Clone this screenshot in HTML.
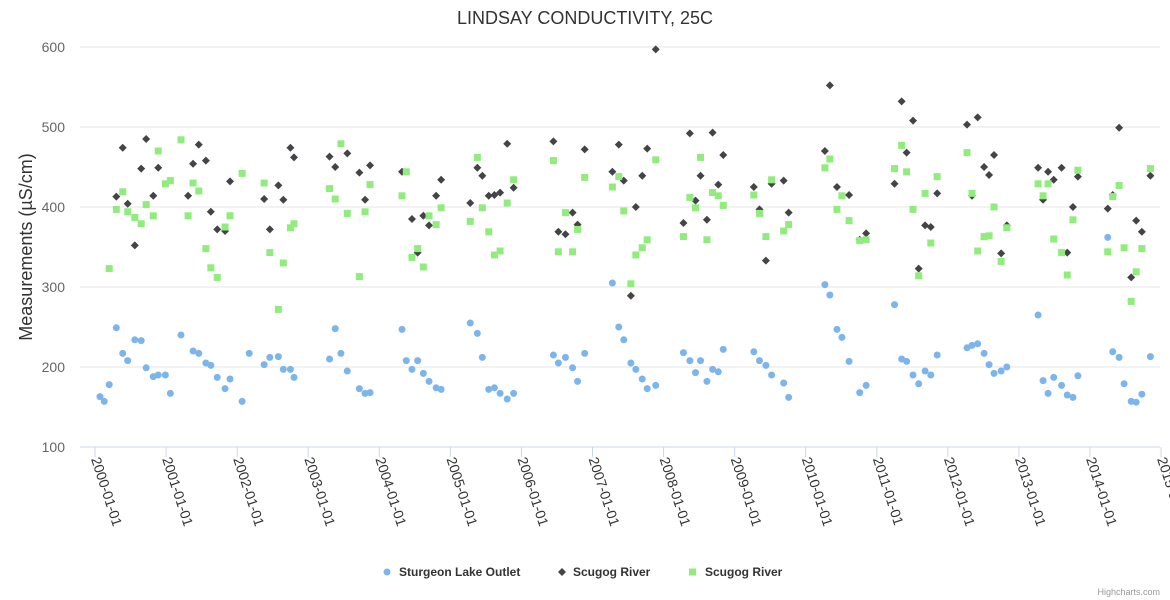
<!DOCTYPE html>
<html><head><meta charset="utf-8"><style>
body{margin:0;background:#fff;font-family:"Liberation Sans",sans-serif;}
svg{display:block}
</style></head><body>
<svg id="c" width="1170" height="600">
<text x="585" y="24" text-anchor="middle" font-size="18" fill="#333">LINDSAY CONDUCTIVITY, 25C</text>
<text transform="translate(32,247) rotate(-90)" text-anchor="middle" font-size="18" fill="#333">Measurements (µS/cm)</text>
<g id="grid"></g><g id="xax"></g><g id="marks"></g>
<g>
<g><circle cx="387" cy="572" r="3.5" fill="#7cb5ec"/><text x="399" y="576" font-size="12" font-weight="bold" fill="#333">Sturgeon Lake Outlet</text></g>
<g><path d="M562,568 L566,572 L562,576 L558,572Z" fill="#434348"/><text x="573" y="576" font-size="12" font-weight="bold" fill="#333">Scugog River</text></g>
<g><rect x="689" y="568.5" width="7" height="7" fill="#90ed7d"/><text x="705" y="576" font-size="12" font-weight="bold" fill="#333">Scugog River</text></g>
</g>
<text x="1160" y="595" text-anchor="end" font-size="9" fill="#999">Highcharts.com</text>
</svg>
<script>
const yTicks=[100,200,300,400,500,600];
const xTickYears=[0,1,2,3,4,5,6,7,8,9,10,11,12,13,14,15];
const xTickLabels=["2000-01-01","2001-01-01","2002-01-01","2003-01-01","2004-01-01","2005-01-01","2006-01-01","2007-01-01","2008-01-01","2009-01-01","2010-01-01","2011-01-01","2012-01-01","2013-01-01","2014-01-01","2015-01-01"];
const sturgeonT=[0.07,0.13,0.20,0.30,0.39,0.46,0.56,0.65,0.72,0.82,0.89,0.99,1.06,1.21,1.38,1.46,1.56,1.63,1.72,1.83,1.90,2.07,2.17,2.38,2.46,2.58,2.65,2.75,2.80,3.30,3.38,3.46,3.55,3.72,3.80,3.87,4.32,4.38,4.46,4.54,4.62,4.70,4.80,4.87,5.28,5.38,5.45,5.54,5.62,5.70,5.80,5.89,6.45,6.52,6.62,6.72,6.79,6.89,7.28,7.37,7.44,7.54,7.61,7.70,7.77,7.89,8.28,8.37,8.45,8.52,8.61,8.69,8.77,8.84,9.27,9.35,9.44,9.52,9.69,9.76,10.27,10.34,10.44,10.51,10.61,10.76,10.85,11.25,11.35,11.42,11.51,11.59,11.68,11.76,11.85,12.27,12.34,12.42,12.51,12.58,12.65,12.75,12.83,13.27,13.34,13.41,13.49,13.60,13.68,13.76,13.83,14.25,14.32,14.41,14.48,14.58,14.65,14.73,14.85];
const sturgeonV=[163,157,178,249,217,208,234,233,199,188,190,190,167,240,220,217,205,202,187,173,185,157,217,203,212,213,197,197,187,210,248,217,195,173,167,168,247,208,197,208,192,182,174,172,255,242,212,172,174,167,160,167,215,205,212,199,182,217,305,250,234,205,197,185,173,177,218,208,193,208,182,197,194,222,219,208,202,190,180,162,303,290,247,237,207,168,177,278,210,207,190,179,195,190,215,224,227,229,217,203,192,195,200,265,183,167,187,177,165,162,189,362,219,212,179,157,156,166,213];
const scugogAT=[0.30,0.39,0.46,0.56,0.65,0.72,0.82,0.89,1.31,1.38,1.46,1.56,1.63,1.72,1.83,1.90,2.38,2.46,2.58,2.65,2.75,2.80,3.30,3.38,3.55,3.72,3.80,3.87,4.32,4.46,4.54,4.62,4.70,4.80,4.87,5.28,5.38,5.45,5.54,5.62,5.70,5.80,5.89,6.45,6.52,6.62,6.72,6.79,6.89,7.28,7.37,7.44,7.54,7.61,7.70,7.77,7.89,8.28,8.37,8.45,8.52,8.61,8.69,8.77,8.84,9.27,9.35,9.44,9.52,9.69,9.76,10.27,10.34,10.44,10.61,10.76,10.85,11.25,11.35,11.42,11.51,11.59,11.68,11.76,11.85,12.27,12.34,12.42,12.51,12.58,12.65,12.75,12.83,13.27,13.34,13.41,13.49,13.60,13.68,13.76,13.83,14.25,14.32,14.41,14.58,14.65,14.73,14.85];
const scugogAV=[413,474,404,352,448,485,414,449,414,454,478,458,394,372,370,432,410,372,427,409,474,462,463,450,467,443,409,452,444,385,343,389,377,414,434,405,449,439,414,415,418,479,424,482,369,366,393,378,472,444,478,433,289,400,439,473,597,380,492,408,439,384,493,428,465,425,397,333,429,433,393,470,552,425,415,359,367,429,532,468,508,323,377,375,417,503,414,512,450,440,465,342,377,449,409,444,434,449,343,400,438,398,415,499,312,383,369,439];
const scugogBT=[0.20,0.30,0.39,0.46,0.56,0.65,0.72,0.82,0.89,0.99,1.06,1.21,1.31,1.38,1.46,1.56,1.63,1.72,1.83,1.90,2.07,2.38,2.46,2.58,2.65,2.75,2.80,3.30,3.38,3.46,3.55,3.72,3.80,3.87,4.32,4.38,4.46,4.54,4.62,4.70,4.80,4.87,5.28,5.38,5.45,5.54,5.62,5.70,5.80,5.89,6.45,6.52,6.62,6.72,6.79,6.89,7.28,7.37,7.44,7.54,7.61,7.70,7.77,7.89,8.28,8.37,8.45,8.52,8.61,8.69,8.77,8.84,9.27,9.35,9.44,9.52,9.69,9.76,10.27,10.34,10.44,10.51,10.61,10.76,10.85,11.25,11.35,11.42,11.51,11.59,11.68,11.76,11.85,12.27,12.34,12.42,12.51,12.58,12.65,12.75,12.83,13.27,13.34,13.41,13.49,13.60,13.68,13.76,13.83,14.25,14.32,14.41,14.48,14.58,14.65,14.73,14.85];
const scugogBV=[323,397,419,394,387,379,403,389,470,429,433,484,389,430,420,348,324,312,375,389,442,430,343,272,330,374,379,423,410,479,392,313,394,428,414,444,337,348,325,389,378,399,382,462,399,369,340,345,405,434,458,344,393,344,372,437,425,438,395,304,340,349,359,459,363,412,399,462,359,418,414,402,415,392,363,434,370,378,449,460,397,414,383,358,359,448,477,444,397,314,417,355,438,468,417,345,363,364,400,332,374,429,414,429,360,343,315,384,446,344,413,427,349,282,319,348,448];

const NS='http://www.w3.org/2000/svg';
const X0=95,PX=71.07,Y0=447,PY=0.8;
const xs=t=>X0+t*PX, ys=v=>Y0-(v-100)*PY;
function mk(tag,attrs,parent){const e=document.createElementNS(NS,tag);for(const k in attrs)e.setAttribute(k,attrs[k]);parent.appendChild(e);return e;}
const grid=document.getElementById('grid'),xax=document.getElementById('xax'),marks=document.getElementById('marks');
yTicks.forEach(v=>{
  const l=mk('line',{x1:80,x2:1160,y1:ys(v),y2:ys(v),stroke:v===100?'#ccd6eb':'#e6e6e6','stroke-width':1},grid);
  
  
  const t=mk('text',{x:65,y:ys(v)+5,'text-anchor':'end','font-size':14,fill:'#666'},grid);
  t.textContent=v;
  
  
});
xTickYears.forEach((yr,i)=>{
  const x=xs(yr);
  const tk=mk('line',{x1:x,x2:x,y1:Y0,y2:Y0+10,stroke:'#ccd6eb'},xax);
  
  
  const t=mk('text',{transform:`translate(${x-4},${Y0+12}) rotate(72)`,'font-size':14,fill:'#333'},xax);
  t.textContent=xTickLabels[i];
  
  
});
sturgeonT.forEach((t,i)=>{
  const c=mk('circle',{cx:xs(t),cy:ys(sturgeonV[i]),r:3.5,fill:'#7cb5ec'},marks);
  
  
});
scugogAT.forEach((t,i)=>{
  const x=xs(t),y=ys(scugogAV[i]);
  const p=mk('path',{d:`M${x},${y-4}L${x+4},${y}L${x},${y+4}L${x-4},${y}Z`,fill:'#434348'},marks);
  
  
});
scugogBT.forEach((t,i)=>{
  const r=mk('rect',{x:xs(t)-3.5,y:ys(scugogBV[i])-3.5,width:7,height:7,fill:'#90ed7d'},marks);
  
  
});
</script>
</body></html>
